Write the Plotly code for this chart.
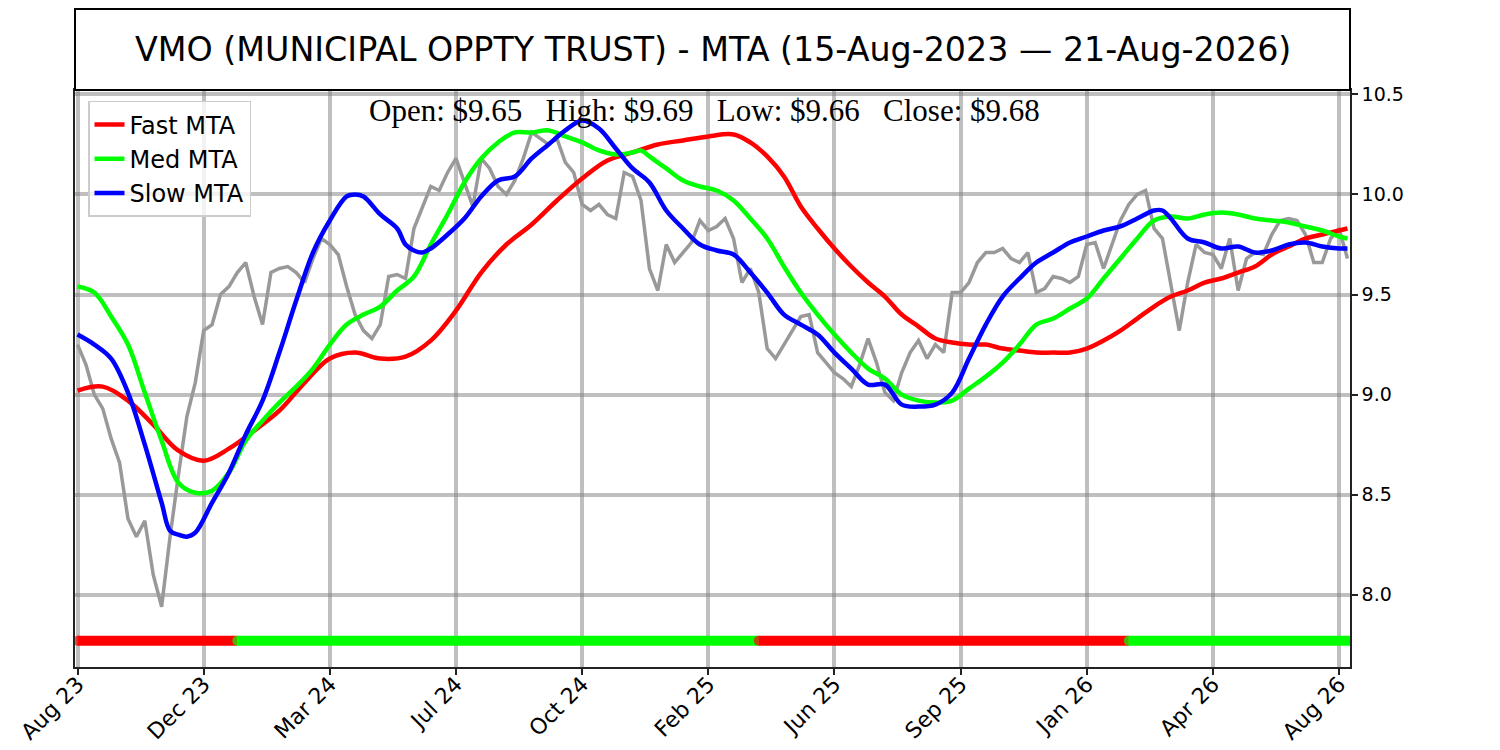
import plotly.graph_objects as go

# weekly closes (index = trading week since 15-Aug-2023)
close = [
    9.25, 9.15, 9.00, 8.93, 8.78, 8.66, 8.38, 8.29, 8.37, 8.10,
    7.94, 8.29, 8.60, 8.89, 9.06, 9.32, 9.35, 9.50, 9.54, 9.61,
    9.66, 9.49, 9.35, 9.61, 9.63, 9.64, 9.61, 9.56, 9.68, 9.78,
    9.75, 9.70, 9.54, 9.40, 9.32, 9.28, 9.35, 9.59, 9.60, 9.58,
    9.83, 9.94, 10.04, 10.02, 10.11, 10.18, 10.06, 9.94, 10.18, 10.13,
    10.04, 10.00, 10.07, 10.18, 10.31, 10.28, 10.25, 10.28, 10.16, 10.11,
    9.95, 9.92, 9.95, 9.90, 9.88, 10.11, 10.09, 9.97, 9.63, 9.52,
    9.75, 9.66, 9.71, 9.76, 9.87, 9.82, 9.84, 9.88, 9.78, 9.56,
    9.63, 9.51, 9.23, 9.18, 9.25, 9.32, 9.39, 9.40, 9.21, 9.16,
    9.11, 9.08, 9.04, 9.15, 9.28, 9.16, 9.01, 8.97, 9.11, 9.21,
    9.27, 9.18, 9.25, 9.21, 9.51, 9.51, 9.56, 9.66, 9.71, 9.71,
    9.73, 9.68, 9.66, 9.71, 9.51, 9.53, 9.59, 9.58, 9.56, 9.59,
    9.75, 9.76, 9.63, 9.75, 9.87, 9.95, 10.00, 10.02, 9.83, 9.78,
    9.56, 9.32, 9.56, 9.75, 9.71, 9.70, 9.63, 9.78, 9.52, 9.68,
    9.71, 9.70, 9.80, 9.87, 9.88, 9.87, 9.80, 9.66, 9.66, 9.78,
    9.83, 9.68,
]
weeks = list(range(len(close)))

fast_weeks = [0, 3, 6, 9, 12, 15, 18, 21, 24, 27, 30, 33, 36, 39, 42, 45, 48, 51, 54, 57,
              60, 63, 66, 69, 72, 75, 78, 80, 82, 84, 86, 88, 90, 92, 94, 96, 98, 100,
              102, 104, 106, 108, 110, 112, 114, 116, 118, 120, 122, 124, 126, 128,
              130, 132, 134, 136, 138, 140, 142, 144, 146, 148, 150, 151]
fast_mta = [9.02, 9.04, 8.97, 8.85, 8.72, 8.67, 8.73, 8.82, 8.92, 9.06, 9.18, 9.21, 9.18, 9.19,
            9.27, 9.42, 9.61, 9.75, 9.85, 9.97, 10.08, 10.17, 10.21, 10.25, 10.27, 10.29,
            10.30, 10.26, 10.19, 10.09, 9.94, 9.83, 9.73, 9.64, 9.56, 9.49, 9.40, 9.34,
            9.28, 9.26, 9.25, 9.25, 9.23, 9.22, 9.21, 9.21, 9.21, 9.23, 9.27, 9.32, 9.38,
            9.44, 9.49, 9.52, 9.56, 9.58, 9.61, 9.64, 9.70, 9.74, 9.78, 9.80, 9.82, 9.83]

med_weeks = [0, 2, 4, 6, 8, 10, 12, 14, 16, 18, 20, 22, 24, 26, 28, 30, 32, 34, 36, 38,
             40, 42, 44, 46, 48, 50, 52, 54, 56, 58, 60, 62, 64, 66, 67, 68, 70, 72, 74, 76,
             78, 80, 82, 84, 86, 88, 90, 92, 94, 96, 98, 100, 102, 104, 106, 108, 110, 112,
             114, 116, 118, 120, 122, 124, 126, 128, 130, 132, 134, 136, 138, 140, 142,
             144, 146, 148, 150, 151]
med_mta = [9.54, 9.51, 9.39, 9.25, 9.01, 8.77, 8.56, 8.51, 8.52, 8.61, 8.77, 8.87, 8.96,
           9.04, 9.13, 9.25, 9.35, 9.40, 9.44, 9.52, 9.59, 9.75, 9.90, 10.06, 10.18, 10.26,
           10.31, 10.31, 10.32, 10.29, 10.26, 10.22, 10.20, 10.21, 10.22, 10.19, 10.13,
           10.07, 10.04, 10.02, 9.97, 9.88, 9.78, 9.64, 9.51, 9.40, 9.30, 9.21, 9.13, 9.08,
           9.00, 8.97, 8.96, 8.97, 9.03, 9.09, 9.16, 9.25, 9.35, 9.38, 9.43, 9.48, 9.58,
           9.68, 9.78, 9.87, 9.89, 9.88, 9.90, 9.91, 9.90, 9.88, 9.87, 9.86, 9.84, 9.82,
           9.79, 9.78]

slow_weeks = [0, 2, 4, 6, 8, 10, 11, 12, 13, 14, 16, 18, 20, 22, 24, 26, 28, 30, 32, 33,
              34, 36, 38, 39, 40, 41, 42, 44, 46, 48, 50, 52, 54, 56, 58, 60, 62, 64, 66,
              68, 70, 72, 74, 76, 78, 80, 82, 84, 86, 88, 90, 92, 94, 96, 98, 100, 102, 104,
              106, 108, 110, 112, 114, 116, 118, 120, 122, 124, 126, 128, 129, 130, 132,
              134, 136, 138, 140, 142, 144, 146, 148, 150, 151]
slow_mta = [9.30, 9.25, 9.18, 9.01, 8.75, 8.46, 8.32, 8.30, 8.29, 8.31, 8.46, 8.61, 8.80,
            8.97, 9.21, 9.47, 9.71, 9.87, 9.99, 10.00, 9.99, 9.90, 9.83, 9.75, 9.72, 9.71,
            9.73, 9.80, 9.88, 9.99, 10.07, 10.09, 10.18, 10.25, 10.32, 10.37, 10.33, 10.23,
            10.13, 10.06, 9.92, 9.83, 9.75, 9.72, 9.70, 9.61, 9.51, 9.40, 9.35, 9.30, 9.21,
            9.13, 9.05, 9.05, 8.95, 8.94, 8.95, 9.01, 9.18, 9.35, 9.49, 9.58, 9.66, 9.71,
            9.76, 9.79, 9.82, 9.84, 9.88, 9.92, 9.92, 9.88, 9.78, 9.76, 9.73, 9.74, 9.71,
            9.72, 9.75, 9.76, 9.74, 9.73, 9.73]

# trend regime strip along the bottom
regime_start = [0, 19, 81, 125]
regime_end = [19, 81, 125, 151.3]
regime_color = ["#ff0000", "#00ff00", "#ff0000", "#00ff00"]
strip_level = 7.77

tick_weeks = [0, 15, 30, 45, 60, 75, 90, 105, 120, 135, 150]
tick_labels = ["Aug 23", "Dec 23", "Mar 24", "Jul 24", "Oct 24", "Feb 25",
               "Jun 25", "Sep 25", "Jan 26", "Apr 26", "Aug 26"]

title_text = "VMO (MUNICIPAL OPPTY TRUST) - MTA (15-Aug-2023 \u2014 21-Aug-2026)"
ohlc_text = "Open: $9.65   High: $9.69   Low: $9.66   Close: $9.68"

fig = go.Figure()

fig.add_trace(go.Scatter(x=weeks, y=close, mode="lines",
                         line=dict(color="#999999", width=3.5),
                         showlegend=False, hoverinfo="skip"))

for s, e, c in zip(regime_start, regime_end, regime_color):
    fig.add_trace(go.Scatter(x=[s, e], y=[strip_level, strip_level], mode="lines+markers",
                             line=dict(color=c, width=10),
                             marker=dict(color=c, size=[10, 0], line=dict(width=0)),
                             showlegend=False, hoverinfo="skip"))

fig.add_trace(go.Scatter(x=fast_weeks, y=fast_mta, mode="lines", name="Fast MTA",
                         line=dict(color="#ff0000", width=4.5, shape="spline")))
fig.add_trace(go.Scatter(x=med_weeks, y=med_mta, mode="lines", name="Med MTA",
                         line=dict(color="#00ff00", width=4.5, shape="spline")))
fig.add_trace(go.Scatter(x=slow_weeks, y=slow_mta, mode="lines", name="Slow MTA",
                         line=dict(color="#0000ff", width=4.5, shape="spline")))

grid = "rgba(128,128,128,0.5)"
fig.update_xaxes(range=[-0.3, 151.3], tickvals=tick_weeks, ticktext=tick_labels,
                 tickangle=-45, ticks="outside", ticklen=6, tickwidth=1.5, tickcolor="#222",
                 ticklabelstandoff=-12,
                 showgrid=True, gridcolor=grid, gridwidth=4, zeroline=False,
                 showline=True, mirror=True, linecolor="#222", linewidth=1.5,
                 automargin=False,
                 tickfont=dict(family="DejaVu Sans", size=22, color="black"))
fig.update_yaxes(range=[7.639, 10.522], side="right", tickvals=[8.0, 8.5, 9.0, 9.5, 10.0, 10.5],
                 ticktext=["8.0", "8.5", "9.0", "9.5", "10.0", "10.5"],
                 ticks="outside", ticklen=6, tickwidth=1.5, tickcolor="#222",
                 showgrid=True, gridcolor=grid, gridwidth=4, zeroline=False,
                 showline=True, mirror=True, linecolor="#222", linewidth=1.5,
                 automargin=False,
                 tickfont=dict(family="DejaVu Sans", size=19, color="black"))

# title box above the plot
fig.add_shape(type="rect", xref="paper", yref="paper", x0=0, x1=1, y0=1, y1=1 + 81 / 577,
              line=dict(color="black", width=2), fillcolor="white", layer="above")
fig.add_annotation(text=title_text, xref="paper", yref="paper", x=0.5, y=1 + 40.5 / 577,
                   showarrow=False, xanchor="center", yanchor="middle",
                   font=dict(family="DejaVu Sans", size=33.3, color="black"))
fig.add_annotation(text=ohlc_text, xref="paper", yref="paper", x=0.4937, y=1 - 20 / 577,
                   showarrow=False, xanchor="center", yanchor="middle",
                   font=dict(family="Liberation Serif", size=31, color="black"))

# the page body adds an 8px offset, so margins are shifted to compensate
fig.update_layout(
    width=1500, height=750,
    margin=dict(l=67, r=158, t=82, b=91, autoexpand=False),
    paper_bgcolor="white", plot_bgcolor="white",
    legend=dict(x=0.0102, y=0.981, xanchor="left", yanchor="top",
                bgcolor="rgba(255,255,255,0.8)", bordercolor="#cccccc", borderwidth=1.5,
                font=dict(family="DejaVu Sans", size=24, color="black"),
                itemwidth=30, tracegroupgap=0),
)

fig.write_html("out.html")
